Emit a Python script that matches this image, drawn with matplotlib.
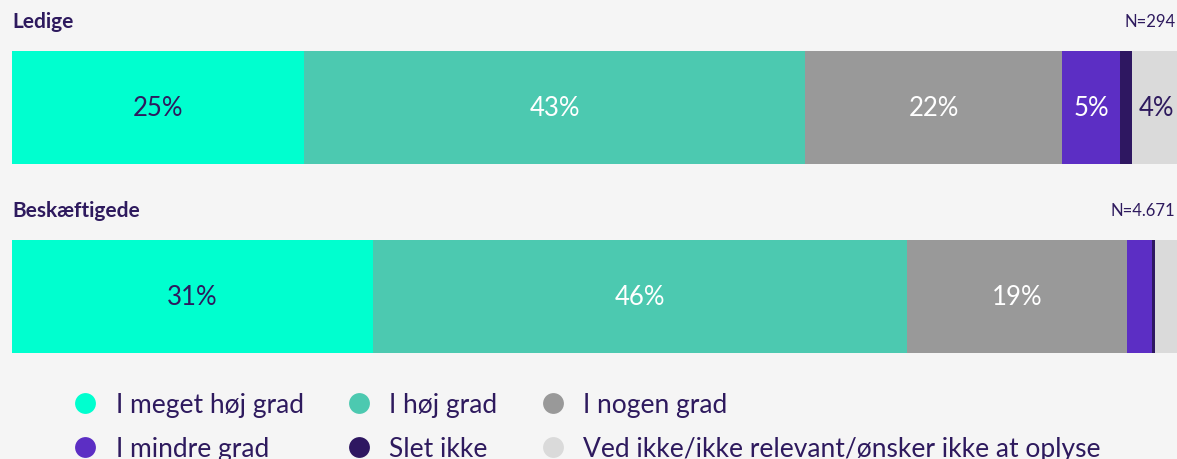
import matplotlib.pyplot as plt
import numpy as np
from matplotlib.lines import Line2D

plt.rcParams['font.family'] = ['Lato', 'DejaVu Sans']

groups = ["Ledige", "Beskæftigede"]
n_labels = ["N=294", "N=4.671"]
answers = ["I meget høj grad", "I høj grad", "I nogen grad",
           "I mindre grad", "Slet ikke", "Ved ikke/ikke relevant/ønsker ikke at oplyse"]
ledige = [25.0, 42.9, 22.0, 5.0, 1.0, 4.1]
beskaeftigede = [30.9, 45.7, 18.9, 2.1, 0.3, 2.1]
values = np.array([ledige, beskaeftigede])

colors = ["#00FFCF", "#4CC9B0", "#999999", "#5C2EC4", "#2E1761", "#DADADA"]
label_colors = ["#2E1A5E", "white", "white", "white", "white", "#2E1A5E"]
text_col = "#2E1A5E"
bg = "#F5F5F5"

fig = plt.figure(figsize=(11.77, 4.6), dpi=100)
fig.patch.set_facecolor(bg)
ax = fig.add_axes([12 / 1177, (460 - 354) / 460, 1168 / 1177, 302 / 460])
ax.set_facecolor(bg)

h = 113 / 189
y = np.arange(len(groups))
left = np.zeros(len(groups))
for j in range(len(answers)):
    ax.barh(y, values[:, j], left=left, height=h, color=colors[j], linewidth=0)
    for i in range(len(groups)):
        v = values[i, j]
        if v >= 3.5:
            ax.text(left[i] + v / 2, y[i], f"{v:.0f}%", ha="center", va="center",
                    color=label_colors[j], fontsize=18.5)
    left += values[:, j]

for i, g in enumerate(groups):
    ty = y[i] - h / 2 - 0.16
    ax.text(0, ty, g, ha="left", va="center", fontsize=15,
            fontweight="bold", color=text_col)
    ax.annotate(n_labels[i], xy=(1, ty), xycoords=("figure fraction", "data"),
                xytext=(-1, 0), textcoords="offset points",
                ha="right", va="center", fontsize=12, color=text_col)

ax.set_xlim(0, 100)
ax.set_ylim(1.299, -0.299)
ax.axis("off")

handles = [Line2D([], [], marker="o", linestyle="", markersize=15,
                  markerfacecolor=c, markeredgewidth=0) for c in colors]
order = [0, 3, 1, 4, 2, 5]
leg = fig.legend([handles[k] for k in order], [answers[k] for k in order],
                 ncol=3, loc="upper left", bbox_to_anchor=(72 / 1177, 1 - 393 / 460),
                 frameon=False, fontsize=19, handlelength=1.0, handletextpad=0.65,
                 columnspacing=1.6, labelspacing=0.72, borderaxespad=0, borderpad=0)
for t in leg.get_texts():
    t.set_color(text_col)

fig.savefig("out.png", dpi=100, facecolor=bg)
